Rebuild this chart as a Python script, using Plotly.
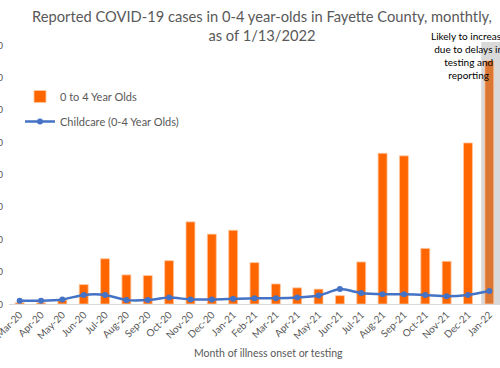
import plotly.graph_objects as go

months = ["Mar-20", "Apr-20", "May-20", "Jun-20", "Jul-20", "Aug-20", "Sep-20", "Oct-20",
          "Nov-20", "Dec-20", "Jan-21", "Feb-21", "Mar-21", "Apr-21", "May-21", "Jun-21",
          "Jul-21", "Aug-21", "Sep-21", "Oct-21", "Nov-21", "Dec-21", "Jan-22"]
cases_0_4 = [2, 2, 6, 30, 70, 45, 44, 67, 127, 108, 114, 64, 31, 25, 23, 13,
             65, 233, 229, 86, 66, 249, 376]
childcare = [5, 5, 7, 14, 14, 6, 6, 10, 7, 7, 8, 9, 9, 10, 13, 23,
             17, 15, 15, 14, 12, 14, 20]
y_ticks = [0, 50, 100, 150, 200, 250, 300, 350, 400]

FONT = "Lato"
GRAY = "#595959"

bar_colors = ["#FF6600"] * (len(months) - 1) + ["#DC7633"]

fig = go.Figure()
fig.add_trace(go.Bar(
    x=months, y=cases_0_4, name="0 to 4 Year Olds",
    marker=dict(color=bar_colors, line=dict(color="#FFC9A3", width=0.8)),
    legendgroup="a",
))
fig.add_trace(go.Scatter(
    x=months, y=childcare, name="Childcare (0-4 Year Olds)",
    mode="lines+markers", line=dict(color="#4472C4", width=2.5, shape="spline", smoothing=0.6),
    marker=dict(color="#4472C4", size=6),
    legendgroup="b",
))

fig.add_shape(type="rect", xref="x", yref="y", x0=21.62, x1=22.6, y0=0, y1=405,
              fillcolor="#D9D9D9", line=dict(width=0), layer="below")

fig.add_annotation(text="Likely to increase<br>due to delays in<br>testing and<br>reporting",
                   xref="paper", yref="paper", x=(468 - 9) / 491, y=(304 - 28) / 262,
                   xanchor="center", yanchor="top", showarrow=False, align="center",
                   font=dict(family=FONT, size=10, color="#000000"))

fig.add_annotation(text="Month of illness onset or testing",
                   xref="paper", yref="paper", x=(268 - 9) / 491, y=-49 / 262,
                   xanchor="center", yanchor="middle", showarrow=False,
                   font=dict(family=FONT, size=10.5, color=GRAY))

fig.update_layout(
    width=500, height=368,
    margin=dict(l=9, r=0, t=42, b=64),
    paper_bgcolor="white", plot_bgcolor="white",
    bargap=0.58,
    title=dict(text="Reported COVID-19 cases in 0-4 year-olds in Fayette County, monthtly,<br>as of 1/13/2022",
               x=262 / 500, xref="container", xanchor="center",
               y=1 - 22 / 368, yanchor="top",
               font=dict(family=FONT, size=14.7, color=GRAY)),
    legend=dict(x=(20 - 9) / 491, y=(304 - 82) / 262, xanchor="left", yanchor="top",
                bgcolor="rgba(0,0,0,0)", font=dict(family=FONT, size=11, color=GRAY),
                tracegroupgap=6, traceorder="grouped"),
    showlegend=True,
    font=dict(family=FONT, color=GRAY),
)
fig.update_xaxes(showline=True, linecolor="#D9D9D9", linewidth=1, showgrid=False,
                 tickangle=-45, tickfont=dict(family=FONT, size=10, color=GRAY),
                 ticks="", automargin=False, range=[-0.5, 22.5])
fig.update_yaxes(range=[0, 405], showgrid=False, zeroline=False, showline=False,
                 tickvals=y_ticks, tickfont=dict(family=FONT, size=10, color=GRAY),
                 automargin=False, ticklabelstandoff=5)

fig.write_html("out.html", config={"displayModeBar": False},
               post_script="document.body.style.margin='0';")
